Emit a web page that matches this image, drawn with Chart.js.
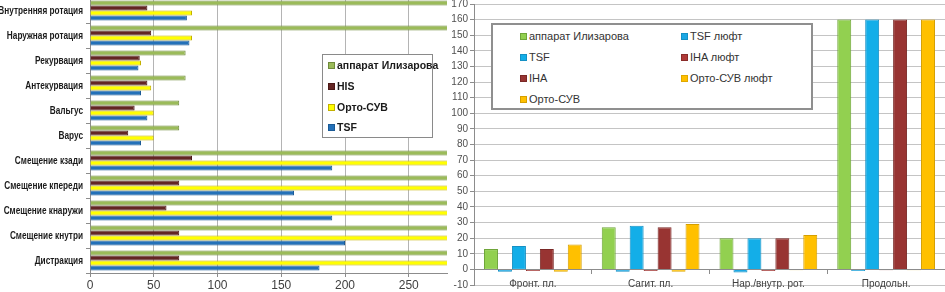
<!DOCTYPE html>
<html>
<head>
<meta charset="utf-8">
<script src="https://cdn.jsdelivr.net/npm/chart.js@4.4.0/dist/chart.umd.min.js"></script>
<style>
  body { margin: 0; background: #fff; width: 945px; height: 292px; overflow: hidden; position: relative; }
  canvas { position: absolute; }
  #leftChart { left: 0; top: -2px; }
  #rightChart { left: 448px; top: 0; }
  .legend { position: absolute; background: #fff; z-index: 2; box-sizing: border-box; }
  .legend .item { position: absolute; white-space: nowrap; line-height: 14px; height: 14px; }
  .legend .sw { display: inline-block; width: 7px; height: 7px; margin-right: 2px; vertical-align: 0px; box-sizing: border-box; }
  #leftLegend { left: 322px; top: 54px; width: 111px; height: 84px; border: 1px solid #8a8a8a;
    font: bold 10.5px "Liberation Sans", Arial, sans-serif; color: #1a1a1a; }
  #rightLegend { left: 491px; top: 23px; width: 322px; height: 87px; border: 2px solid #8f8f8f;
    font: 11px "Liberation Sans", Arial, sans-serif; color: #333; }
</style>
</head>
<body>
<canvas id="leftChart" width="448" height="294" style="width:448px;height:294px"></canvas>
<canvas id="rightChart" width="497" height="292" style="width:497px;height:292px"></canvas>
<div id="leftLegend" class="legend"></div>
<div id="rightLegend" class="legend"></div>
<script>
// Left chart (horizontal bars)
const leftCategories = ['Внутренняя ротация', 'Наружная ротация', 'Рекурвация', 'Антекурвация', 'Вальгус', 'Варус',
  'Смещение кзади', 'Смещение кпереди', 'Смещение кнаружи', 'Смещение кнутри', 'Дистракция'];
const ilizarovLeft = [300, 300, 75, 75, 70, 70, 300, 300, 300, 300, 300];
const hisLeft = [45, 48, 39, 45, 35, 30, 80, 70, 60, 70, 70];
const ortoLeft = [80, 80, 40, 48, 50, 50, 300, 300, 300, 300, 300];
const tsfLeft = [76, 78, 38, 40, 45, 40, 190, 160, 190, 200, 180];
const leftTicks = [0, 50, 100, 150, 200, 250];

// Right chart (vertical bars)
const rightCategories = ['Фронт. пл.', 'Сагит. пл.', 'Нар./внутр. рот.', 'Продольн.'];
const ilizarovRight = [13, 27, 20, 160];
const tsfPlay = [-1.5, -1.5, -2, -1];
const tsfRight = [15, 28, 20, 160];
const ihaPlay = [-1, -1, -1, -0.5];
const ihaRight = [13, 27, 20, 160];
const ortoPlay = [-1.5, -1.5, -0.5, -0.5];
const ortoRight = [16, 29, 22, 160];

const axisGray = '#8c8c8c';

const leftDatasets = [
  { label: 'аппарат Илизарова', data: ilizarovLeft, backgroundColor: '#9bbb59', borderColor: '#6f8a3c' },
  { label: 'HIS', data: hisLeft, backgroundColor: '#632523', borderColor: '#4a1816' },
  { label: 'Орто-СУВ', data: ortoLeft, backgroundColor: '#ffff00', borderColor: '#c3b000' },
  { label: 'TSF', data: tsfLeft, backgroundColor: '#2370b8', borderColor: '#1a5a96' }
];
leftDatasets.forEach(d => { d.borderWidth = 1; d.categoryPercentage = 0.8; d.barPercentage = 1.0; });

// the original category labels use a narrow bold face, so draw them slightly condensed
const narrowLabels = {
  id: 'narrowLabels',
  afterDraw(chart) {
    const scale = chart.scales.y;
    const ctx = chart.ctx;
    ctx.save();
    ctx.font = 'bold 11px "Liberation Sans", Arial, sans-serif';
    ctx.fillStyle = '#1a1a1a';
    ctx.textAlign = 'right';
    ctx.textBaseline = 'middle';
    scale.ticks.forEach((t, i) => {
      const y = scale.getPixelForTick(i);
      ctx.save();
      ctx.translate(scale.right - 7, y);
      ctx.scale(0.75, 1);
      ctx.fillText(chart.data.labels[i], 0, 0);
      ctx.restore();
    });
    ctx.restore();
  }
};

new Chart(document.getElementById('leftChart'), {
  type: 'bar',
  data: { labels: leftCategories, datasets: leftDatasets },
  plugins: [narrowLabels],
  options: {
    indexAxis: 'y',
    responsive: false,
    animation: false,
    devicePixelRatio: 1,
    layout: { padding: { top: 0, right: 1, bottom: 0, left: 0 } },
    plugins: { legend: { display: false }, tooltip: { enabled: false } },
    scales: {
      x: {
        min: 0, max: 280,
        afterBuildTicks: s => { s.ticks = leftTicks.map(v => ({ value: v })); },
        ticks: { color: '#404040', font: { family: 'Liberation Sans', size: 12 }, padding: 1 },
        grid: { color: '#b4b4b4', tickLength: 4, tickColor: axisGray },
        border: { color: axisGray },
        afterFit: s => { s.height = 19; s.paddingLeft = 0; s.paddingRight = 0; }
      },
      y: {
        ticks: { display: false },
        grid: { drawOnChartArea: false, tickLength: 4, color: axisGray, offset: true },
        border: { color: axisGray },
        afterFit: s => { s.width = 90; s.paddingTop = 0; s.paddingBottom = 0; }
      }
    }
  }
});

const rightDatasets = [
  { label: 'аппарат Илизарова', data: ilizarovRight, backgroundColor: '#92d050', borderColor: '#6fa53a' },
  { label: 'TSF люфт', data: tsfPlay, backgroundColor: '#1aa7e4', borderColor: '#1590c4' },
  { label: 'TSF', data: tsfRight, backgroundColor: '#13aee8', borderColor: '#1590c4' },
  { label: 'IHA люфт', data: ihaPlay, backgroundColor: '#b03a38', borderColor: '#8a2c2a' },
  { label: 'IHA', data: ihaRight, backgroundColor: '#983432', borderColor: '#7a2826' },
  { label: 'Орто-СУВ люфт', data: ortoPlay, backgroundColor: '#ffc000', borderColor: '#e0a800' },
  { label: 'Орто-СУВ', data: ortoRight, backgroundColor: '#ffc000', borderColor: '#d59f00' }
];
rightDatasets.forEach(d => { d.borderWidth = 1; d.categoryPercentage = 0.83; d.barPercentage = 1.0; });

new Chart(document.getElementById('rightChart'), {
  type: 'bar',
  data: { labels: rightCategories, datasets: rightDatasets },
  options: {
    responsive: false,
    animation: false,
    devicePixelRatio: 1,
    layout: { padding: { top: 4, right: 0, bottom: 7, left: 0 } },
    plugins: { legend: { display: false }, tooltip: { enabled: false } },
    scales: {
      x: {
        position: { y: 0 },
        ticks: { color: '#404040', font: { family: 'Liberation Sans', size: 10 }, padding: 5 },
        grid: { drawOnChartArea: false, offset: true, tickLength: 4, color: axisGray },
        border: { color: axisGray }
      },
      y: {
        min: -10, max: 170,
        ticks: { stepSize: 10, color: '#505050', font: { family: 'Liberation Sans', size: 10 }, padding: 2 },
        grid: { color: '#c4c4c4', tickLength: 4, tickColor: axisGray },
        border: { color: axisGray },
        afterFit: s => { s.width = 26; s.paddingTop = 0; s.paddingBottom = 0; }
      }
    }
  }
});

// HTML legends placed inside the plot areas like the original
function buildLegend(el, datasets, slots) {
  datasets.forEach((d, i) => {
    const item = document.createElement('div');
    item.className = 'item';
    item.style.left = slots[i][0] + 'px';
    item.style.top = slots[i][1] + 'px';
    item.innerHTML = '<span class="sw" style="background:' + d.backgroundColor + ';border:1px solid ' + d.borderColor + '"></span>' + d.label;
    el.appendChild(item);
  });
}
buildLegend(document.getElementById('leftLegend'), leftDatasets, [[5, 3], [5, 24], [5, 45], [5, 65]]);
buildLegend(document.getElementById('rightLegend'), rightDatasets,
  [[27, 4], [188, 4], [27, 25], [188, 25], [27, 46], [188, 46], [27, 67]]);
</script>
</body>
</html>
